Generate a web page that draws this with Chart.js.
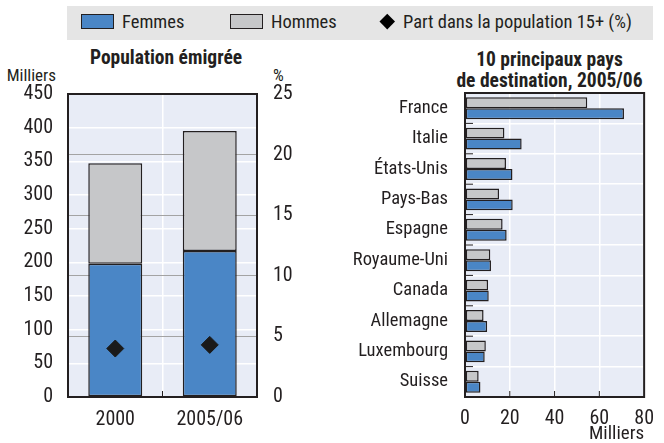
<!DOCTYPE html>
<html><head><meta charset="utf-8">
<script src="https://cdn.jsdelivr.net/npm/chart.js@4.4.1/dist/chart.umd.min.js"></script>
<style>
body{margin:0;background:#fff;width:664px;height:443px;position:relative;overflow:hidden;color:#231f20}
.abs{position:absolute;white-space:nowrap}
#legend{left:67px;top:6px;width:586px;height:34px;background:#e5e5e5}
.sw{position:absolute;top:8px;width:31px;height:13px;border:1px solid #231f20}
.dia{position:absolute;left:315px;top:10px;width:10.5px;height:10.5px;background:#000;transform:rotate(45deg)}
canvas{position:absolute;top:0}
</style></head><body>
<div id="legend" class="abs">
  <span class="sw" style="left:14px;background:#4a86c6"></span>
  <span class="sw" style="left:163px;background:#c6c7c9"></span>
  <span class="dia"></span>
</div>
<div id="tLeg1" class="abs">Femmes</div>
<div id="tLeg2" class="abs">Hommes</div>
<div id="tLeg3" class="abs">Part dans la population 15+ (%)</div>
<div id="tTitle1" class="abs">Population émigrée</div>
<div id="tTitle2a" class="abs">10 principaux pays</div>
<div id="tTitle2b" class="abs">de destination, 2005/06</div>
<div id="tUnitL" class="abs">Milliers</div>
<div id="tUnitR" class="abs">%</div>
<canvas id="c1" width="330" height="443" style="left:0;width:330px;height:443px"></canvas>
<canvas id="c2" width="334" height="443" style="left:330px;width:334px;height:443px"></canvas>
<script>
// ---- data ----
const years = ['2000', '2005/06'];
const popFemmes = [198, 217];
const popHommes = [149, 178];
const partPop = [4.0, 4.3];
const popTicks = [0, 50, 100, 150, 200, 250, 300, 350, 400, 450];
const pctTicks = [0, 5, 10, 15, 20, 25];

const countries = ['France', 'Italie', 'États-Unis', 'Pays-Bas', 'Espagne', 'Royaume-Uni', 'Canada', 'Allemagne', 'Luxembourg', 'Suisse'];
const destHommes = [54.6, 17.6, 18.3, 15.2, 16.8, 11.3, 10.3, 8.3, 9.3, 6.1];
const destFemmes = [71.0, 25.3, 21.2, 21.3, 18.6, 11.6, 10.6, 9.9, 8.8, 6.9];
const destTicks = [0, 20, 40, 60, 80];

// ---- style ----
const BLUE = '#4a86c6', GRAY = '#c6c7c9', PLOT = '#e8ecf6', TXT = '#231f20', EDGE = '#231f20';

function hasFont(name) {
  const c = document.createElement('canvas').getContext('2d');
  const t = 'Royaume-Uni 2005/06 Milliers';
  c.font = '20px monospace'; const a = c.measureText(t).width;
  c.font = '20px "' + name + '", monospace'; return Math.abs(c.measureText(t).width - a) > 0.5;
}
const COND = hasFont('Roboto Condensed');
const FAM = COND ? '"Roboto Condensed", "Liberation Sans", sans-serif' : '"Liberation Sans", Arial, sans-serif';
const SZ = COND ? {tick: 20, cat: 18.5, leg: 18.5, title: 19.5, unit: 17, unitR: 19}
                : {tick: 17.5, cat: 16.5, leg: 16.3, title: 17, unit: 15.5, unitR: 17};

Chart.defaults.font.family = FAM;
Chart.defaults.color = TXT;
Chart.defaults.animation = false;

// place an HTML text so that its baseline sits at y
function place(id, x, baseline, size, opts = {}) {
  const el = document.getElementById(id);
  const weight = opts.bold ? 'bold ' : '';
  const c = document.createElement('canvas').getContext('2d');
  c.font = weight + size + 'px ' + FAM;
  const m = c.measureText(el.textContent);
  const fa = m.fontBoundingBoxAscent, fd = m.fontBoundingBoxDescent;
  const L = Math.round(size * 1.4);
  el.style.font = weight + size + 'px/' + L + 'px ' + FAM;
  el.style.top = (baseline - (L - (fa + fd)) / 2 - fa) + 'px';
  const w = m.width;
  let left = x;
  if (opts.align === 'center') left = x - w / 2;
  else if (opts.align === 'right') left = x - w;
  el.style.left = left + 'px';
}
place('tLeg1', 122, 28, SZ.leg);
place('tLeg2', 271, 28, SZ.leg);
place('tLeg3', 403, 28, SZ.leg);
place('tTitle1', 166, 64, SZ.title, {bold: true, align: 'center'});
place('tTitle2a', 549.5, 66, SZ.title, {bold: true, align: 'center'});
place('tTitle2b', 549.5, 86.5, SZ.title, {bold: true, align: 'center'});
place('tUnitL', 56, 81, SZ.unit, {align: 'right'});
place('tUnitR', 273, 81, SZ.unit);

const setTicks = arr => s => { s.ticks = arr.map(v => ({value: v})); };

const frame = {
  id: 'frame',
  beforeDraw(chart) {
    const {ctx, chartArea: a} = chart;
    ctx.save(); ctx.fillStyle = PLOT; ctx.fillRect(a.left, a.top, a.right - a.left, a.bottom - a.top); ctx.restore();
  },
  afterDatasetsDraw(chart, args, opts) {
    const {ctx, chartArea: a} = chart;
    ctx.save();
    ctx.strokeStyle = EDGE; ctx.lineWidth = 1;
    ctx.beginPath();
    if (opts.markFn) opts.markFn(chart).forEach(m => { ctx.moveTo(m[0], m[1]); ctx.lineTo(m[2], m[3]); });
    ctx.stroke();
    ctx.lineWidth = 2;
    ctx.strokeRect(a.left, a.top, a.right - a.left, a.bottom - a.top);
    ctx.restore();
  }
};

new Chart(document.getElementById('c1'), {
  type: 'bar',
  data: {
    labels: years,
    datasets: [
      {type: 'line', label: 'Part dans la population 15+ (%)', data: partPop, yAxisID: 'y2', showLine: false,
       pointStyle: 'rectRot', pointRadius: 8.5, pointBackgroundColor: '#1a1a1a', pointBorderColor: '#1a1a1a', order: -1},
      {label: 'Femmes', data: popFemmes, backgroundColor: BLUE, borderColor: EDGE, borderWidth: 1.5, borderSkipped: false, yAxisID: 'y'},
      {label: 'Hommes', data: popHommes, backgroundColor: GRAY, borderColor: EDGE, borderWidth: 1.5, borderSkipped: false, yAxisID: 'y'}
    ]
  },
  options: {
    responsive: false,
    layout: {padding: {top: 94, left: 0, right: 0, bottom: 0}},
    categoryPercentage: 1, barPercentage: 0.571,
    plugins: {legend: {display: false}, tooltip: {enabled: false},
      frame: {markFn: ch => { const x = ch.scales.x; const m = (x.getPixelForValue(0) + x.getPixelForValue(1)) / 2; return [[m, ch.chartArea.bottom, m, ch.chartArea.bottom - 6]]; }}},
    scales: {
      x: {stacked: true, offset: true, grid: {color: '#ffffff', lineWidth: 1.5, offset: true, drawTicks: false}, border: {display: false},
          ticks: {font: {size: SZ.tick}, padding: 11}, afterFit: s => { s.height = 46; }},
      y: {stacked: true, position: 'left', min: 0, max: 450, afterBuildTicks: setTicks(popTicks),
          grid: {color: '#ffffff', lineWidth: 1.5, drawTicks: false}, border: {display: false},
          ticks: {font: {size: SZ.tick}, padding: 15}, afterFit: s => { s.width = 68; }},
      y2: {position: 'right', min: 0, max: 25, afterBuildTicks: setTicks(pctTicks),
          grid: {color: '#a3a3a3', lineWidth: 1, drawTicks: false}, border: {display: false},
          ticks: {font: {size: SZ.tick}, padding: 16}, afterFit: s => { s.width = 73; }}
    }
  },
  plugins: [frame]
});

new Chart(document.getElementById('c2'), {
  type: 'bar',
  data: {
    labels: countries,
    datasets: [
      {label: 'Hommes', data: destHommes, backgroundColor: GRAY, borderColor: EDGE, borderWidth: 1.5, borderSkipped: false},
      {label: 'Femmes', data: destFemmes, backgroundColor: BLUE, borderColor: EDGE, borderWidth: 1.5, borderSkipped: false}
    ]
  },
  options: {
    responsive: false,
    indexAxis: 'y',
    layout: {padding: {top: 93, left: 0, right: 10, bottom: 0}},
    categoryPercentage: 0.72, barPercentage: 1,
    plugins: {legend: {display: false}, tooltip: {enabled: false},
      frame: {markFn: ch => {
        const a = ch.chartArea, y = ch.scales.y, x = ch.scales.x, out = [];
        for (let i = 0; i < countries.length - 1; i++) { const p = (y.getPixelForValue(i) + y.getPixelForValue(i + 1)) / 2; out.push([a.left, p, a.left + 8, p]); }
        destTicks.slice(1, -1).forEach(v => { const p = x.getPixelForValue(v); out.push([p, a.bottom, p, a.bottom - 6]); });
        return out; }}},
    scales: {
      x: {position: 'bottom', min: 0, max: 80, afterBuildTicks: setTicks(destTicks),
          grid: {color: '#ffffff', lineWidth: 1.5, drawTicks: false}, border: {display: false},
          ticks: {font: {size: SZ.tick}, padding: 10},
          title: {display: true, text: 'Milliers', align: 'end', font: {size: SZ.unitR}, padding: {top: 0, bottom: -3}},
          afterFit: s => { s.height = 46; }},
      y: {grid: {color: '#ffffff', lineWidth: 1.5, offset: true, drawTicks: false}, border: {display: false},
          ticks: {font: {size: SZ.cat}, padding: 17}, afterFit: s => { s.width = 135; }}
    }
  },
  plugins: [frame]
});
</script>
</body></html>
